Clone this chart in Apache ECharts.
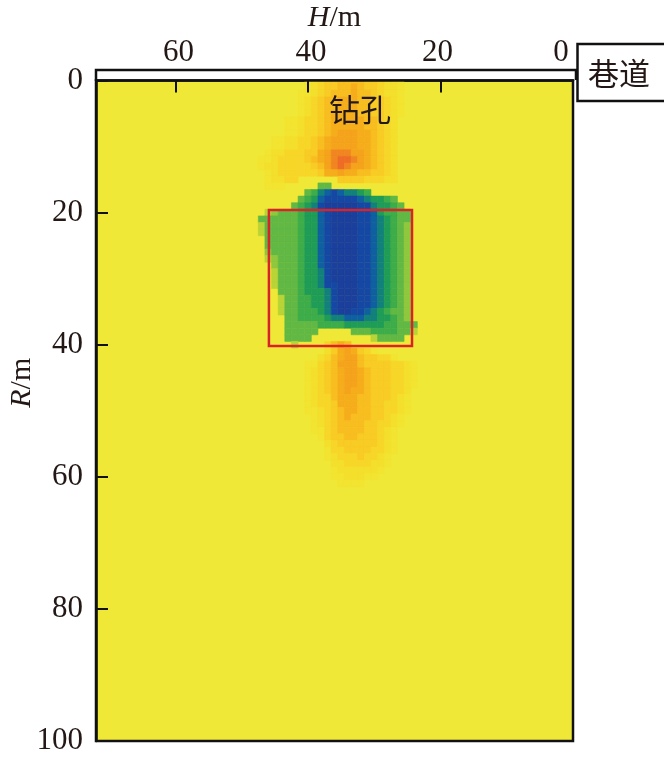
<!DOCTYPE html>
<html><head><meta charset="utf-8">
<script src="https://cdn.jsdelivr.net/npm/echarts@6/dist/echarts.min.js"></script>
<style>html,body{margin:0;padding:0;background:#fff}#c{width:667px;height:761px}</style>
</head><body><div id="c"></div>
<script>
// Cell levels. Each string is one R row; characters run H=48,47,46...
// '.' background, 1-9 warm anomaly (rising), a-i cold anomaly (rising strength).
const upperRows = [
"........123445555443221",
"........123445565443221",
".......1123455565543221",
".......1234556665544321",
".......1234556665544321",
".......1234566665544321",
".....11233456666655432",
".....11233456666655432",
".....11233456777665432",
"...1122334567777665432",
"...1122334567777665432",
"..12233344678887765432",
".112333345678998765432",
".122333334578987765432",
"..12333333466766554432",
"..12233......444433322"
];
const coreRows = [
"..111.....cc",
"........cdfghgffed",
".......cdeghhhhhgfeedc",
"......cdefhiiiiihhfeedc",
"..abcccdeeghiiiihhgeddcc",
".ccccccdeeghiiiihhgfedcc",
".acccccdeeghiiiihhgfedcb",
".acccccdeeghiiiihhgfedcb",
"..cccccdeeghiiiihhgfedcb",
"..cccccdeeghiiiihhgfedcb",
"..bccccdeeghiiiihhgfedcb",
"..abcccdeeghiiiihhgfedcb",
"...bcccdeeghiiiihhgfedcb",
"...acccdeefhiiiihhgfedcb",
"...acccdeefhiiiihhgfedcb",
"...acccdeefhhiiihhgfedcb",
"....cccdeeefhiiihhgfedcb",
"....accddeefhiiihhgfedcb",
"....accddeefhiiihhgfedcb",
"....accdddefhiihhgfedccb",
".....ccddddeffgggffeedcb",
".....cccccddddeeeeeeddccc",
".....ccccc.....cccddddcca",
".....cccc.........acccc"
];
const lowerRows = [
"......a....3565",
"...........24676431",
"..........235677544331",
"........11345777544443321",
"........12345677654443321",
"........12345677654443321",
"........12345677654443321",
"........1234567665444332",
"........1233566655444321",
"........1233466655443321",
"........1123456655443321",
".........12345655544321",
".........12345555443321",
".........1134555544321",
"..........134455444321",
"...........23444444321",
"...........13344443321",
"...........1233343321",
"............223333221",
"............12222221",
"............1122211",
".............1111"
];
const firstH = 48;
const levelChars = "ihgfedcba.123456789";
const levelColors = ["#1b3f9c","#1548a4","#0f60a0","#12817c","#1f9c58","#3dac4a","#62b845","#8fc73e","#b8d436",
  "#f0e836","#f2e431","#f4df2d","#f7d629","#f9cb25","#f8bd20","#f6ad1c","#f5a21d","#f18522","#ee6c26"];
const axisHTicks = [0, 20, 40, 60];
const axisRTicks = [0, 20, 40, 60, 80, 100];
const redBox = [[45.9, 19.6], [24.3, 40.2]];
const boreLabel = "钻孔", roadLabel = "巷道";

const cells = [];
[...upperRows, ...coreRows, ...lowerRows].forEach((row, r) => {
  [...row].forEach((ch, k) => {
    if (ch === '.' || ch === ' ') return;
    cells.push([firstH - k, r, levelChars.indexOf(ch) - 9]);
  });
});

const ink = '#231815', serif = '"Liberation Serif","Times New Roman",serif', cjk = '"Noto Sans CJK SC",sans-serif';
const tickText = {fontFamily: serif, fontSize: 31, color: ink};
const nameRich = {
  i: {fontFamily: serif, fontStyle: 'italic', fontSize: 30, color: ink},
  n: {fontFamily: serif, fontSize: 30, color: ink}};
const chart = echarts.init(document.getElementById('c'), null, {renderer: 'canvas'});
chart.setOption({
  animation: false,
  backgroundColor: '#fff',
  grid: {left: 96, top: 80.5, width: 477, height: 660.5, outerBoundsMode: 'none', containLabel: false,
         show: true, backgroundColor: levelColors[9], borderColor: '#111', borderWidth: 2.5},
  visualMap: {show: false, type: 'continuous', dimension: 2, min: -9, max: 9, seriesIndex: 0,
              inRange: {color: levelColors}},
  xAxis: {type: 'value', position: 'top', inverse: true, min: 0, max: 72, interval: 20, z: 10,
    splitLine: {show: false},
    axisLine: {show: true, onZero: false, lineStyle: {color: '#111', width: 2.5}},
    axisTick: {show: true, inside: true, length: 12, lineStyle: {color: '#111', width: 2}},
    axisLabel: {show: true, showMaxLabel: false, margin: 12, ...tickText,
      formatter: v => v === 0 ? '{z|0}' : v === 20 ? '{l|20}' : '{r|' + v + '}',
      rich: {z: {...tickText, padding: [0, 24, 0, 0]},
             l: {...tickText, padding: [0, 6, 0, 0]},
             r: {...tickText, padding: [0, 0, 0, 6]}}},
    name: '{i|H}{n|/m}', nameLocation: 'middle', nameGap: 47, nameMoveOverlap: false,
    nameTextStyle: {rich: nameRich}
  },
  yAxis: {type: 'value', inverse: true, min: 0, max: 100, interval: 20, z: 10,
    splitLine: {show: false},
    axisLine: {show: true, onZero: false, lineStyle: {color: '#111', width: 2.5}},
    axisTick: {show: true, inside: true, length: 12, lineStyle: {color: '#111', width: 2}},
    axisLabel: {show: true, margin: 13, padding: [4, 0, 0, 0], ...tickText},
    name: '{i|R}{n|/m}', nameLocation: 'middle', nameGap: 59, nameRotate: 90, nameMoveOverlap: false,
    nameTextStyle: {rich: nameRich, padding: [0, 0, 0, 56]}
  },
  series: [{
    type: 'custom', clip: true, data: cells, encode: {x: 0, y: 1},
    renderItem: (params, api) => {
      const a = api.coord([api.value(0) + 0.5, api.value(1) - 0.5]);
      const b = api.coord([api.value(0) - 0.5, api.value(1) + 0.5]);
      const color = api.visual('color');
      return {type: 'rect', shape: {x: a[0], y: a[1], width: b[0] - a[0], height: b[1] - a[1]},
              style: {fill: color, stroke: color, lineWidth: 0.6}};
    },
    markArea: {silent: true, z: 5,
      itemStyle: {color: 'rgba(0,0,0,0)', borderColor: '#d9232b', borderWidth: 2.5},
      data: [[{coord: redBox[0]}, {coord: redBox[1]}]]}
  }],
  graphic: [
    {type: 'polyline', z: 10, shape: {points: [[96, 80], [96, 70], [576, 70], [576, 80]]},
     style: {fill: null, stroke: '#111', lineWidth: 2.5}},
    {type: 'polyline', z: 10, shape: {points: [[664, 44], [577.5, 44], [577.5, 101], [664, 101]]},
     style: {fill: null, stroke: '#111', lineWidth: 2.5}},
    {type: 'text', z: 10, style: {text: roadLabel, x: 619, y: 73, align: 'center', verticalAlign: 'middle',
      font: '31px ' + cjk, fill: ink}},
    {type: 'text', z: 10, style: {text: boreLabel, x: 360, y: 109, align: 'center', verticalAlign: 'middle',
      font: '31px ' + cjk, fill: ink}}
  ]
});
</script></body></html>
